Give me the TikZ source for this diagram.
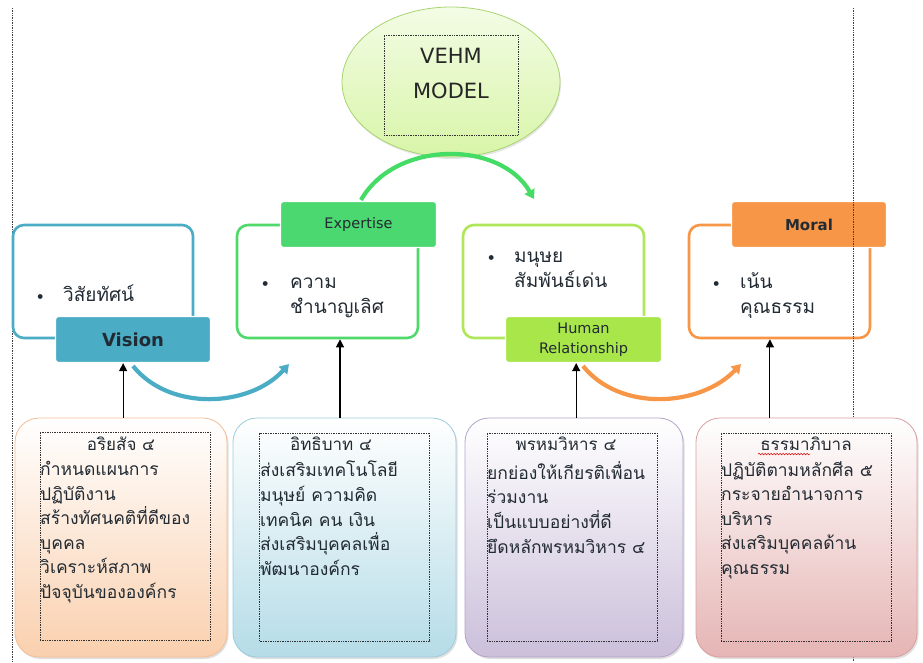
\documentclass[tikz,border=0pt]{standalone}
\usepackage{fontspec}
\setmainfont{Open Sans}
\newfontfamily\thai[Script=Thai]{Loma}
\newfontfamily\lab{DejaVu Sans}
\usetikzlibrary{shadows,arrows.meta,calc,decorations.pathmorphing,shapes.geometric}
\definecolor{vblue}{HTML}{4BACC6}
\definecolor{egreen}{HTML}{4CD870}
\definecolor{eline}{HTML}{4ED96A}
\definecolor{hgreen}{HTML}{A9E64A}
\definecolor{hline}{HTML}{AEE85A}
\definecolor{morange}{HTML}{F79646}
\definecolor{txt}{HTML}{222B33}
\definecolor{peach}{HTML}{FAD0AE}
\definecolor{peachl}{HTML}{F2BE98}
\definecolor{lblue}{HTML}{B5DCE7}
\definecolor{lbluel}{HTML}{9CCCDC}
\definecolor{lav}{HTML}{CBBFDA}
\definecolor{lavl}{HTML}{B3A3C8}
\definecolor{pink}{HTML}{E5B5B4}
\definecolor{pinkl}{HTML}{D9A0A0}
\definecolor{ellfill}{HTML}{D8F5A8}
\definecolor{ellline}{HTML}{A8D472}
\newcommand{\bul}{{\fontsize{14}{14}\selectfont\textbullet}}
\tikzset{
  outerbox/.style={draw, line width=2.6pt, rounded corners=11pt, fill=white},
  labelbox/.style={draw=white, line width=1.2pt, rounded corners=3pt, text=txt, align=center},
  botbox/.style={draw, line width=0.8pt, rounded corners=24pt, minimum width=#1, minimum height=239pt,
     drop shadow={opacity=0.25, shadow xshift=1.5pt, shadow yshift=-2pt}},
  dotbox/.style={draw=black!80, densely dotted, line width=0.7pt, minimum width=170pt, minimum height=208pt},
  thaibody/.style={font=\thai\fontsize{17.5}{24.6}\selectfont, text=txt, align=left, inner sep=0pt, anchor=north west},
  thaititle/.style={font=\thai\fontsize{17}{20}\selectfont, text=txt, inner sep=0pt},
  bullettext/.style={font=\thai\fontsize{19}{24.5}\selectfont, text=txt, inner sep=0pt, anchor=west},
  uparrow/.style={draw=black, line width=1.1pt, -{Triangle[length=8pt,width=8pt]}},
  flowarrow/.style={line width=4.2pt, -{Triangle[length=9pt,width=11pt]}},
  sideline/.style={draw=black!75, densely dotted, line width=0.7pt}
}
\begin{document}
\begin{tikzpicture}[x=1pt,y=-1pt]
\useasboundingbox (0,0) rectangle (923,662);
% left dotted margin line
\coordinate (l1) at (12,8);
\coordinate (l2) at (12,662);
\draw[sideline] (l1) -- (l2);
\coordinate (r3) at (853,657);
\coordinate (r4) at (853,662);
\draw[sideline] (r3) -- (r4);

% central ellipse
\node[ellipse, draw=ellline, line width=0.8pt, top color=white!70!ellfill, bottom color=ellfill,
      minimum width=218pt, minimum height=150pt,
      drop shadow={opacity=0.2, shadow xshift=1pt, shadow yshift=-2pt}] (ell) at (451,82) {};
\node[draw=black!80, densely dotted, line width=0.7pt, minimum width=134pt, minimum height=100pt] (ellbox) at (451,85) {};
\node[font=\lab\fontsize{21}{35}\selectfont, text=black!85, align=center, anchor=north] (vehm) at (451,45) {VEHM\\MODEL};

% row of four boxes
\node[outerbox, draw=vblue, minimum width=180pt, minimum height=113pt] (visbox) at (103,281.5) {};
\node[outerbox, draw=eline, minimum width=181pt, minimum height=113pt] (expbox) at (327.5,281.5) {};
\node[outerbox, draw=hline, minimum width=181pt, minimum height=113pt] (humbox) at (553.5,281.5) {};
\node[outerbox, draw=morange, minimum width=181pt, minimum height=113pt] (morbox) at (779.5,281.5) {};

\node[bullettext] (vist) at (37,297) {\begin{tabular}{@{}p{26pt}@{}l@{}}\bul & วิสัยทัศน์\end{tabular}};
\node[bullettext] (expt) at (262,296) {\begin{tabular}{@{}p{28pt}@{}l@{}}\bul & ความ\\ & ชำนาญเลิศ\end{tabular}};
\node[bullettext] (humt) at (488,270) {\begin{tabular}{@{}p{26pt}@{}l@{}}\bul & มนุษย\\ & สัมพันธ์เด่น\end{tabular}};
\node[bullettext] (mort) at (713,296) {\begin{tabular}{@{}p{27pt}@{}l@{}}\bul & เน้น\\ & คุณธรรม\end{tabular}};

% labels
\node[labelbox, fill=vblue, minimum width=155pt, minimum height=46pt, font=\lab\bfseries\fontsize{18}{20}\selectfont] (vision) at (133,339.5) {Vision};
\node[labelbox, fill=egreen, minimum width=156pt, minimum height=46pt, font=\lab\fontsize{14.5}{15}\selectfont] (expertise) at (358.5,224.5) {Expertise};
\node[labelbox, fill=hgreen, minimum width=156pt, minimum height=46pt, font=\lab\fontsize{14.5}{20}\selectfont] (human) at (583.5,339.5) {Human\\Relationship};
\node[labelbox, fill=morange, minimum width=155pt, minimum height=46pt, font=\lab\fontsize{15}{15}\selectfont\bfseries] (moral) at (809,224.5) {Moral};

% right dotted margin line (over the top area)
\coordinate (r1) at (853,8);
\coordinate (r2) at (853,418);
\draw[sideline] (r1) -- (r2);

% flow arrows
\coordinate (g1) at (361,200);
\coordinate (g2) at (534,199);
\draw[flowarrow, color=egreen!90!green] (g1) .. controls (395,140) and (500,140) .. (g2);
\coordinate (b1) at (133,366);
\coordinate (b2) at (289,364);
\draw[flowarrow, color=vblue] (b1) .. controls (170,412) and (250,407) .. (b2);
\coordinate (o1) at (583,366);
\coordinate (o2) at (741,364);
\draw[flowarrow, color=morange] (o1) .. controls (620,412) and (700,407) .. (o2);

% bottom boxes
\node[botbox=212pt, draw=peachl, top color=white, bottom color=peach] (bot1) at (121,537.5) {};
\node[botbox=223pt, draw=lbluel, top color=white, bottom color=lblue] (bot2) at (344.5,537.5) {};
\node[botbox=218pt, draw=lavl, top color=white, bottom color=lav] (bot3) at (574,537.5) {};
\node[botbox=221pt, draw=pinkl, top color=white, bottom color=pink] (bot4) at (806.5,537.5) {};

\node[dotbox] (d1) at (125,536) {};
\node[dotbox] (d2) at (344.5,537) {};
\node[dotbox] (d3) at (572,537) {};
\node[dotbox] (d4) at (806,537) {};

\node[thaititle] (t1) at (121,444) {อริยสัจ ๔};
\node[thaititle] (t2) at (331,444) {อิทธิบาท ๔};
\node[thaititle] (t3) at (566,444) {พรหมวิหาร ๔};
\node[thaititle] (t4) at (806,444) {ธรรมาภิบาล};
\draw[red!85!black, line width=0.5pt, decorate, decoration={snake, amplitude=0.8pt, segment length=3pt}]
  ($(t4.south west)+(-2,3)$) -- ($(t4.south west)+(50,3)$);

\node[thaibody] (x1) at (40,461) {กำหนดแผนการ\\ปฏิบัติงาน\\สร้างทัศนคติที่ดีของ\\บุคคล\\วิเคราะห์สภาพ\\ปัจจุบันขององค์กร};
\node[thaibody] (x2) at (260,461) {ส่งเสริมเทคโนโลยี\\มนุษย์ ความคิด\\เทคนิค คน เงิน\\ส่งเสริมบุคคลเพื่อ\\พัฒนาองค์กร};
\node[thaibody] (x3) at (487,461) {ยกย่องให้เกียรติเพื่อน\\ร่วมงาน\\เป็นแบบอย่างที่ดี\\ยึดหลักพรหมวิหาร ๔};
\node[thaibody] (x4) at (721,461) {ปฏิบัติตามหลักศีล ๕\\กระจายอำนาจการ\\บริหาร\\ส่งเสริมบุคคลด้าน\\คุณธรรม};

% vertical arrows
\coordinate (a1) at ($(bot1.north west)!0.51!(bot1.north east)$);
\draw[uparrow] (a1) -- (a1 |- vision.south);
\coordinate (a2) at ($(bot2.north west)!0.48!(bot2.north east)$);
\draw[uparrow] (a2) -- (a2 |- expbox.south);
\coordinate (a3) at ($(bot3.north west)!0.51!(bot3.north east)$);
\draw[uparrow] (a3) -- (a3 |- human.south);
\coordinate (a4) at ($(bot4.north west)!0.335!(bot4.north east)$);
\draw[uparrow] (a4) -- (a4 |- morbox.south);
\end{tikzpicture}
\end{document}
